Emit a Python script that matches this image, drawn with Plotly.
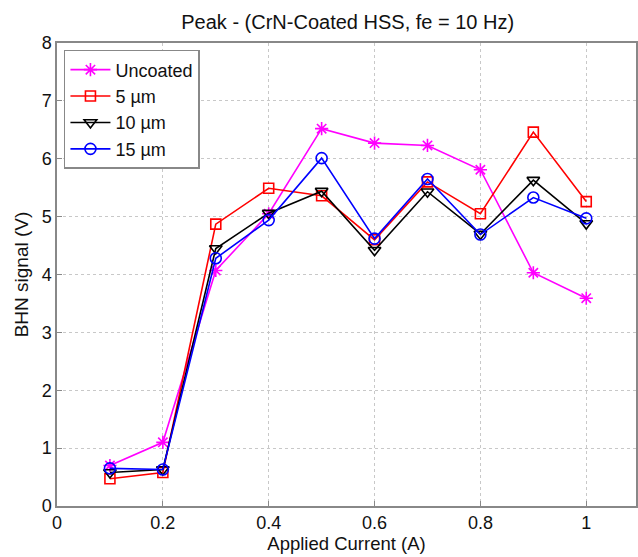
import plotly.graph_objects as go

current = [0.1, 0.2, 0.3, 0.4, 0.5, 0.6, 0.7, 0.8, 0.9, 1.0]
uncoated = [0.70, 1.10, 4.07, 5.05, 6.52, 6.27, 6.23, 5.81, 4.03, 3.59]
um5 = [0.47, 0.58, 4.87, 5.49, 5.36, 4.60, 5.60, 5.05, 6.46, 5.26]
um10 = [0.58, 0.63, 4.45, 5.06, 5.44, 4.42, 5.43, 4.70, 5.63, 4.88]
um15 = [0.65, 0.63, 4.28, 4.94, 6.01, 4.62, 5.65, 4.69, 5.33, 4.97]

names = ["Uncoated", "5 \u00b5m", "10 \u00b5m", "15 \u00b5m"]
series = [uncoated, um5, um10, um15]
colors = ["#ff00ff", "#ff0000", "#000000", "#0000ff"]
symbols = ["asterisk-open", "square-open", "triangle-down-open", "circle-open"]
sizes = [11, 10, 11, 11]

FONT = "Liberation Sans, Arial"

fig = go.Figure()
for n, s, c, sym, sz in zip(names, series, colors, symbols, sizes):
    fig.add_trace(go.Scatter(
        x=current, y=s, name=n, mode="lines+markers",
        line=dict(color=c, width=1.6),
        marker=dict(symbol=sym, size=sz, color=c, line=dict(color=c, width=1.6)),
    ))

axis_common = dict(
    showgrid=True, gridcolor="#c8c8c8", griddash="dot", gridwidth=1,
    showline=True, linecolor="#888888", linewidth=1.5, mirror=True,
    ticks="inside", ticklen=5, tickcolor="#888888",
    zeroline=False, tickfont=dict(family=FONT, size=18, color="#111111"),
)

fig.update_layout(
    width=638, height=557,
    margin=dict(l=57, r=0, t=43, b=51),
    paper_bgcolor="white", plot_bgcolor="white",
    title=dict(text="Peak - (CrN-Coated HSS, fe = 10 Hz)", x=0.545, xanchor="center",
               y=0.96, yanchor="middle",
               font=dict(family=FONT, size=20, color="#111111")),
    xaxis=dict(range=[0, 1.094], tickvals=[0, 0.2, 0.4, 0.6, 0.8, 1.0],
               ticktext=["0", "0.2", "0.4", "0.6", "0.8", "1"],
               title=dict(text="Applied Current (A)", standoff=4,
                          font=dict(family=FONT, size=18.5, color="#111111")),
               **axis_common),
    yaxis=dict(range=[0, 8], tickvals=list(range(9)),
               title=dict(text="BHN signal (V)", standoff=8,
                          font=dict(family=FONT, size=19, color="#111111")),
               **axis_common),
    legend=dict(x=0.012, y=0.985, xanchor="left", yanchor="top",
                bgcolor="white", bordercolor="#888888", borderwidth=1.5,
                font=dict(family=FONT, size=18, color="#111111"),
                tracegroupgap=0, itemwidth=40),
    showlegend=True,
)

fig.write_html("out.html")
